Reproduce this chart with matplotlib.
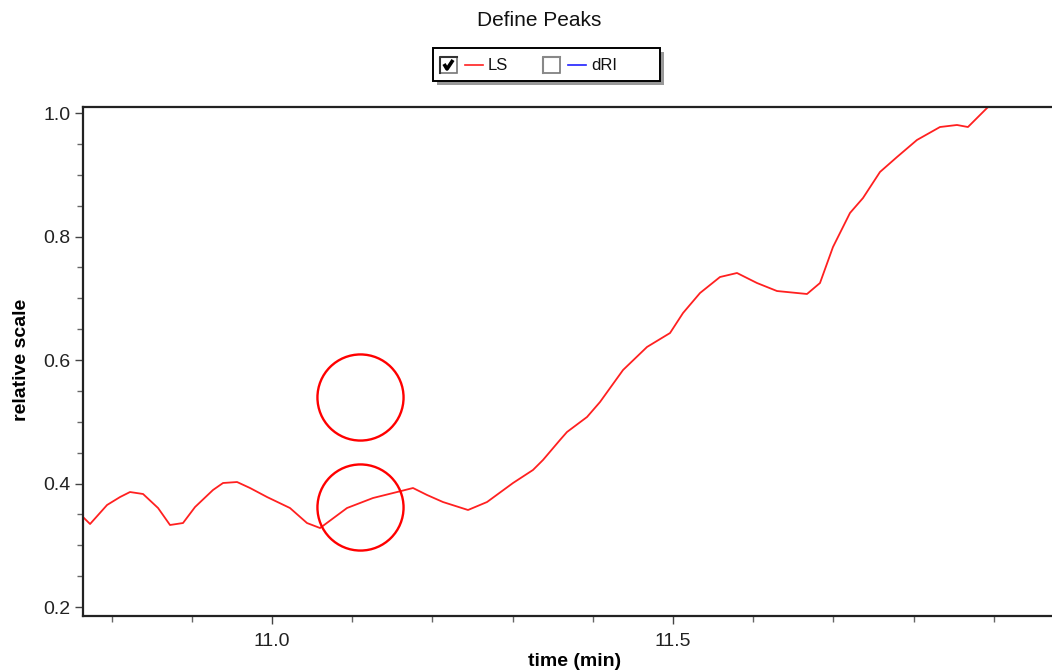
import matplotlib.pyplot as plt
from matplotlib.patches import Rectangle
from matplotlib.ticker import MultipleLocator

plt.rcParams['font.family'] = ['Liberation Sans', 'DejaVu Sans']

# LS trace (time in min, relative scale)
time_min = [10.7643, 10.7731, 10.7943, 10.8105, 10.8229, 10.8392, 10.8579, 10.8728,
            10.8890, 10.9040, 10.9264, 10.9389, 10.9564, 10.9726, 10.9938, 11.0224,
            11.0436, 11.0599, 11.0935, 11.1259, 11.1559, 11.1758, 11.1933, 11.2132,
            11.2444, 11.2681, 11.3005, 11.3254, 11.3379, 11.3591, 11.3678, 11.3928,
            11.4090, 11.4377, 11.4676, 11.4963, 11.5125, 11.5337, 11.5586, 11.5798,
            11.6047, 11.6297, 11.6671, 11.6833, 11.6995, 11.7207, 11.7369, 11.7581,
            11.7793, 11.8042, 11.8329, 11.8541, 11.8678, 11.8928, 11.9100]
ls_values = [0.3457, 0.3344, 0.3652, 0.3781, 0.3862, 0.3830, 0.3603, 0.3328,
             0.3360, 0.3619, 0.3895, 0.4008, 0.4024, 0.3927, 0.3781, 0.3603,
             0.3360, 0.3279, 0.3603, 0.3765, 0.3862, 0.3927, 0.3814, 0.3700,
             0.3571, 0.3700, 0.4008, 0.4219, 0.4381, 0.4705, 0.4834, 0.5077,
             0.5320, 0.5838, 0.6211, 0.6437, 0.6761, 0.7085, 0.7344, 0.7409,
             0.7247, 0.7117, 0.7069, 0.7247, 0.7830, 0.8381, 0.8623, 0.9045,
             0.9287, 0.9563, 0.9773, 0.9806, 0.9773, 1.0097, 1.0300]

# peak-definition markers
marker_time = [11.1097, 11.1097]
marker_value = [0.5393, 0.3619]

series_names = ['LS', 'dRI']
series_colors = ['#ff2020', '#2020ff']
series_checked = [True, False]

x_ticks = [11.0, 11.5]
y_ticks = [0.2, 0.4, 0.6, 0.8, 1.0]

fig = plt.figure(figsize=(10.52, 6.72), dpi=100)
ax = fig.add_axes([83 / 1052, 56 / 672, 1 - 83 / 1052, 509 / 672])

ax.plot(time_min, ls_values, color=series_colors[0], lw=1.3)
ax.plot(marker_time, marker_value, ls='none', marker='o', ms=62,
        mfc='none', mec='#ff0000', mew=1.7, clip_on=False)

ax.set_xlim(10.7643, 11.9726)
ax.set_ylim(0.18543, 1.00972)
ax.set_xticks(x_ticks)
ax.set_yticks(y_ticks)
ax.xaxis.set_minor_locator(MultipleLocator(0.1))
ax.yaxis.set_minor_locator(MultipleLocator(0.05))
ax.tick_params(which='major', direction='out', length=6, width=1, colors='#444',
               labelcolor='#222', labelsize=14, pad=3)
ax.tick_params(axis='x', which='major', pad=6)
ax.tick_params(which='minor', direction='out', length=4, width=1, colors='#666')
ax.spines['right'].set_visible(False)
for s in ['left', 'bottom', 'top']:
    ax.spines[s].set_linewidth(1.6)
    ax.spines[s].set_color('#222')

fig.text(22 / 1052, 1 - 360 / 672, 'relative scale', rotation=90, ha='center',
         va='center', fontsize=14, fontweight='bold')
fig.text(575 / 1052, 1 - 661 / 672, 'time (min)', ha='center', va='center',
         fontsize=14, fontweight='bold')
fig.text(539 / 1052, 1 - 21 / 672, 'Define Peaks', ha='center', va='center',
         fontsize=15, color='#111')

# legend box drawn in pixel space
ov = fig.add_axes([0, 0, 1, 1], zorder=5)
ov.set_xlim(0, 1052)
ov.set_ylim(672, 0)
ov.axis('off')
ov.add_patch(Rectangle((437, 52), 227, 33, fc='#999', ec='none'))
ov.add_patch(Rectangle((433, 48), 227, 33, fc='white', ec='black', lw=1.4))

box_x = [440, 543]
for i, name in enumerate(series_names):
    bx = box_x[i]
    ov.add_patch(Rectangle((bx, 57), 17, 16, fc='white', ec='#777', lw=1.2))
    ov.plot([bx, bx, bx + 17], [73, 57, 57], color='#333' if series_checked[i] else '#888', lw=1.5)
    if series_checked[i]:
        ov.plot([bx + 4, bx + 7, bx + 13], [64, 69, 60], color='black', lw=2.6,
                solid_capstyle='butt')
    ov.plot([bx + 25, bx + 43], [65, 65], color=series_colors[i], lw=1.2)
    ov.text(bx + 48, 65, name, ha='left', va='center', fontsize=12, color='#111')

fig.savefig('out.png', dpi=100)
